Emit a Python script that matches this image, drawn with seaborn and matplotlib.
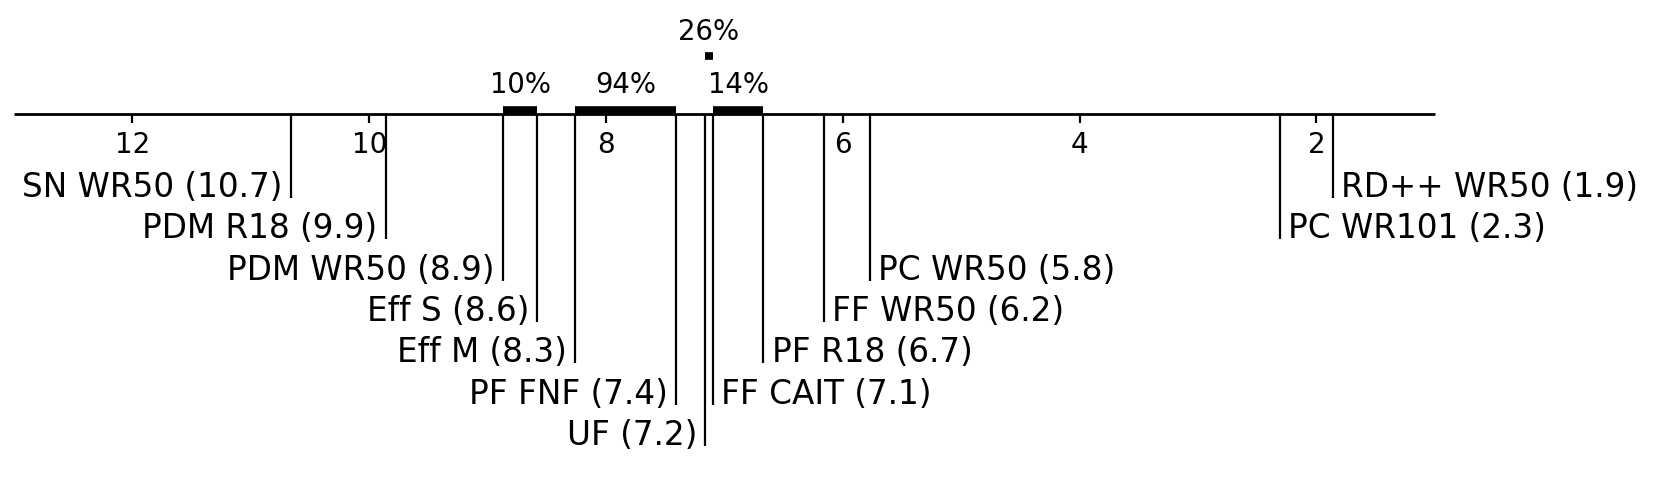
import matplotlib
matplotlib.use('Agg')
import matplotlib.pyplot as plt
import seaborn as sns

# average ranks per method (lower is better)
methods = ['SN WR50', 'PDM R18', 'PDM WR50', 'Eff S', 'Eff M', 'PF FNF', 'UF',
           'FF CAIT', 'PF R18', 'FF WR50', 'PC WR50', 'PC WR101', 'RD++ WR50']
ranks = [10.66, 9.86, 8.87, 8.58, 8.26, 7.41, 7.16,
         7.10, 6.67, 6.16, 5.77, 2.31, 1.86]

# groups not significantly different: (first method, last method, p-value %)
clique_start = ['PDM WR50', 'Eff M', 'UF', 'FF CAIT']
clique_end = ['Eff S', 'PF FNF', 'FF CAIT', 'PF R18']
clique_pct = [10, 94, 26, 14]
clique_level = [0, 0, 1, 0]

tick_values = [12, 10, 8, 6, 4, 2]

sns.set_theme(style='white')
plt.rcParams['font.family'] = ['DejaVu Sans']
plt.rcParams['text.color'] = 'black'

fig = plt.figure(figsize=(16.61, 4.86), dpi=100)
ax = fig.add_axes([0, 0, 1, 1])
ax.set_xlim(13.118, -0.91)
ax.set_ylim(486, 0)
ax.axis('off')

lw = 1.6
axis_y = 114.4
ax.hlines(axis_y, 13, 1, color='black', lw=2)
for t in tick_values:
    ax.vlines(t, axis_y, axis_y + 9, color='black', lw=lw)
    ax.text(t, 145, str(t), ha='center', va='center', fontsize=20)

row0, row_step = 187.5, 41.3
n_left = 7
for i, (m, r) in enumerate(zip(methods, ranks)):
    if i < n_left:
        y = row0 + i * row_step
        ax.vlines(r, axis_y, y + 10.5, color='black', lw=lw)
        ax.text(r + 0.07, y, f'{m} ({r:.1f})', ha='right', va='center', fontsize=23.5)
    else:
        j = len(methods) - 1 - i
        y = row0 + j * row_step
        ax.vlines(r, axis_y, y + 10.5, color='black', lw=lw)
        ax.text(r - 0.07, y, f'{m} ({r:.1f})', ha='left', va='center', fontsize=23.5)

bar_y = [109.7, 56.5]
pct_y = [84.7, 31.8]
rank_of = dict(zip(methods, ranks))
for a, b, p, lev in zip(clique_start, clique_end, clique_pct, clique_level):
    ra, rb = rank_of[a], rank_of[b]
    ax.plot([ra, rb], [bar_y[lev], bar_y[lev]], color='black', lw=5.5,
            solid_capstyle='butt')
    ax.text((ra + rb) / 2, pct_y[lev], f'{p}%', ha='center', va='center', fontsize=19.8)

fig.savefig('out.png', dpi=100)
